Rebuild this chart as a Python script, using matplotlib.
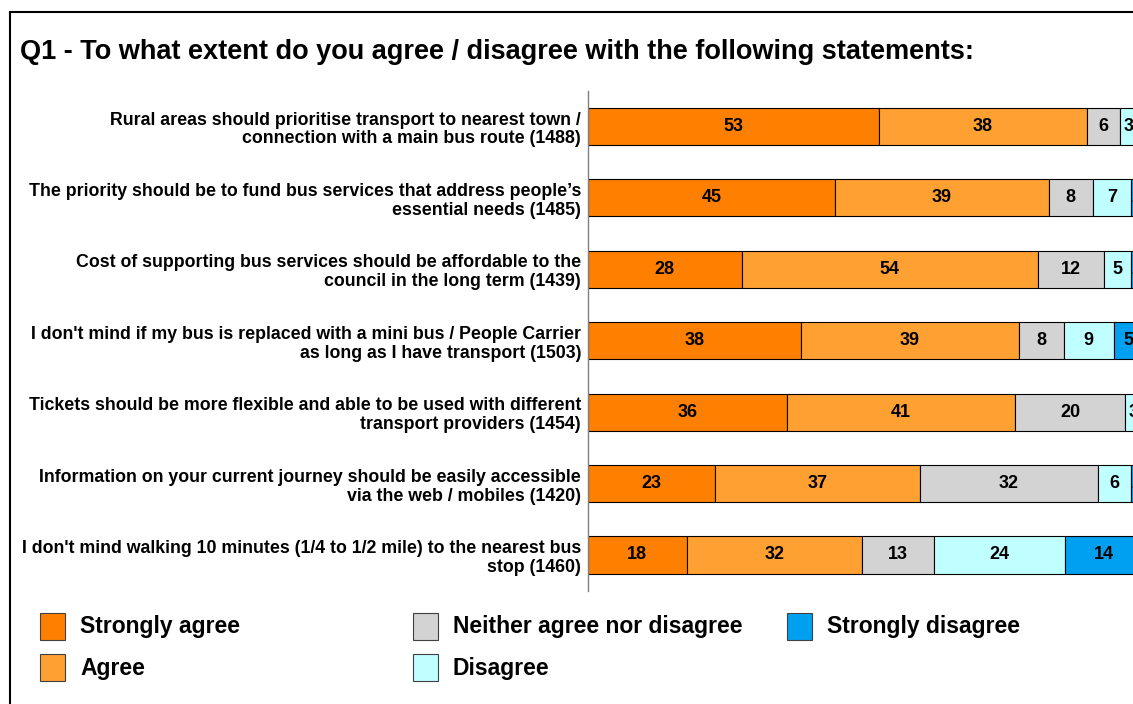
import numpy as np
import matplotlib
matplotlib.use("Agg")
import matplotlib.pyplot as plt
from matplotlib.patches import Rectangle
from matplotlib.lines import Line2D

plt.rcParams['font.family'] = ['Liberation Sans', 'DejaVu Sans']
plt.rcParams['font.weight'] = 'bold'

statements = [
    "Rural areas should prioritise transport to nearest town /\nconnection with a main bus route (1488)",
    "The priority should be to fund bus services that address people\u2019s\nessential needs (1485)",
    "Cost of supporting bus services should be affordable to the\ncouncil in the long term (1439)",
    "I don't mind if my bus is replaced with a mini bus / People Carrier\nas long as I have transport (1503)",
    "Tickets should be more flexible and able to be used with different\ntransport providers (1454)",
    "Information on your current journey should be easily accessible\nvia the web / mobiles (1420)",
    "I don't mind walking 10 minutes (1/4 to 1/2 mile) to the nearest bus\nstop (1460)",
]

strongly_agree = [53, 45, 28, 38, 36, 23, 18]
agree = [38, 39, 54, 39, 41, 37, 32]
neither = [6, 8, 12, 8, 20, 32, 13]
disagree = [3, 7, 5, 9, 3, 6, 24]
strongly_disagree = [1, 2, 2, 5, 0, 2, 14]

categories = ["Strongly agree", "Agree", "Neither agree nor disagree",
              "Disagree", "Strongly disagree"]
colours = ["#FF8000", "#FFA033", "#D3D3D3", "#C0FFFF", "#00A0F0"]

series = np.array([strongly_agree, agree, neither, disagree, strongly_disagree], dtype=float)
totals = series.sum(axis=0)
shares = series / totals * 100  # 100% stacked

W, H = 1133, 704
fig = plt.figure(figsize=(W / 100, H / 100), dpi=100)
ax = fig.add_axes([588 / W, 1 - 590.7 / H, (1142 - 588) / W, (590.7 - 90.8) / H])

y = np.arange(len(statements))
left = np.zeros(len(statements))
for i in range(len(categories)):
    ax.barh(y, shares[i], left=left, height=0.52, color=colours[i],
            edgecolor='black', linewidth=0.8, label=categories[i])
    for j in range(len(statements)):
        if series[i, j] > 0:
            ax.text(left[j] + shares[i, j] / 2, y[j], "%d" % series[i, j],
                    ha='center', va='center', fontsize=13, fontweight='bold',
                    clip_on=False)
    left += shares[i]

ax.set_xlim(0, 100)
ax.set_ylim(len(statements) - 0.5, -0.5)
ax.set_xticks([])
ax.set_yticks(y)
ax.set_yticklabels(statements, fontsize=12.8, fontweight='bold', ha='right',
                   linespacing=1.15)
ax.tick_params(axis='y', length=0, pad=5)
for s in ['top', 'right', 'bottom']:
    ax.spines[s].set_visible(False)
ax.spines['left'].set_color('#808080')
ax.spines['left'].set_linewidth(1)

fig.text(20 / W, 1 - 52 / H, "Q1 - To what extent do you agree / disagree with the following statements:",
         fontsize=19.5, fontweight='bold', va='center', ha='left')

# legend laid out in three columns
legend_pos = [(40, 627), (40, 668), (413, 627), (413, 668), (787, 627)]
for (px, py), name, col in zip(legend_pos, categories, colours):
    fig.add_artist(Rectangle((px / W, 1 - (py + 13) / H), 25 / W, 27 / H,
                             transform=fig.transFigure, facecolor=col,
                             edgecolor='#404040', linewidth=0.8))
    fig.text((px + 40) / W, 1 - py / H, name, fontsize=16.5, fontweight='bold',
             va='center', ha='left')

# outer frame
fig.add_artist(Line2D([10 / W, 10 / W], [0, 1 - 12 / H], color='black', linewidth=1.5,
                      transform=fig.transFigure))
fig.add_artist(Line2D([10 / W, 1], [1 - 12 / H, 1 - 12 / H], color='black', linewidth=1.5,
                      transform=fig.transFigure))

fig.savefig("out.png", dpi=100)
